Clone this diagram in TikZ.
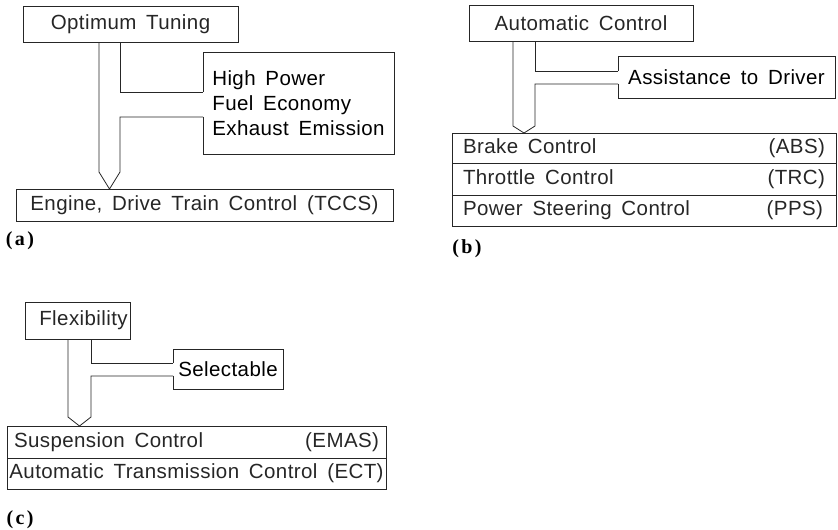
\documentclass[tikz,border=0pt]{standalone}
\usepackage{fontspec}
\setmainfont{Liberation Sans}[LetterSpace=2,WordSpace=1.6]
\newfontfamily\labfont{Liberation Serif}[LetterSpace=12]
\begin{document}
\begin{tikzpicture}[x=1pt,y=-1pt,
  ln/.style={line width=0.8pt,black!85},
  box/.style={draw,ln,rectangle,inner sep=0pt,outer sep=0pt,font=\fontsize{20.5}{25}\selectfont},
  nobox/.style={rectangle,inner sep=0pt,outer sep=0pt,font=\fontsize{20.5}{25}\selectfont},
  lab/.style={inner sep=0pt,font=\labfont\bfseries\fontsize{20}{22}\selectfont}]
\useasboundingbox (0,0) rectangle (838,530);

% ---------- (a) ----------
\node[box,minimum width=215pt,minimum height=36pt] (ot) at (130.5,24) {Optimum Tuning};
\node[nobox,minimum width=191pt,minimum height=102pt,align=left] (hp) at (298.5,103)
  {High Power\\Fuel Economy\\Exhaust Emission};
\node[box,minimum width=377pt,minimum height=32pt] (eng) at (204.5,205) {Engine, Drive Train Control (TCCS)};
\node[lab] (la) at (20,241) {(a)};
\coordinate (aL) at (99,0);
\coordinate (aR) at (120,0);
\coordinate (aT) at (109.5,0);
\coordinate (aD) at (0,172);
\coordinate (aB1) at (203,92);
\coordinate (aB2) at (203,117);
\draw[ln] (aR |- ot.south) -- (aR |- aB1) -- (aB1);
\draw[ln] (aL |- ot.south) -- (aL |- aD) -- (aT |- eng.north) -- (aR |- aD) -- (aR |- aB2) -- (aB2);
\draw[ln] (aB1) -- (hp.north west) -- (hp.north east) -- (hp.south east) -- (hp.south west) -- (aB2);

% ---------- (b) ----------
\node[box,minimum width=224pt,minimum height=36pt] (ac) at (581,23) {Automatic Control};
\node[nobox,minimum width=217pt,minimum height=42pt] (as) at (726.5,77) {Assistance to Driver};
\node[box,minimum width=384pt,minimum height=30pt] (r1) at (644,148) {\makebox[362pt]{Brake Control\hfill(ABS)}};
\node[box,minimum width=384pt,minimum height=32pt] (r2) at (644,179) {\makebox[362pt]{Throttle Control\hfill(TRC)}};
\node[box,minimum width=384pt,minimum height=31pt] (r3) at (644,210.5) {\makebox[362pt]{Power Steering Control\hfill(PPS)\hspace*{2pt}}};
\node[lab] (lb) at (467,249) {(b)};
\coordinate (bL) at (513,0);
\coordinate (bR) at (535,0);
\coordinate (bT) at (524,0);
\coordinate (bD) at (0,126);
\coordinate (bB1) at (618,71);
\coordinate (bB2) at (618,84);
\draw[ln] (bR |- ac.south) -- (bR |- bB1) -- (bB1);
\draw[ln] (bL |- ac.south) -- (bL |- bD) -- (bT |- r1.north) -- (bR |- bD) -- (bR |- bB2) -- (bB2);
\draw[ln] (bB1) -- (as.north west) -- (as.north east) -- (as.south east) -- (as.south west) -- (bB2);

% ---------- (c) ----------
\node[box,minimum width=105pt,minimum height=37pt] (fx) at (77.5,320.5) {\hspace*{12pt}Flexibility};
\node[nobox,minimum width=110pt,minimum height=40pt] (se) at (228,369) {Selectable};
\node[box,minimum width=379pt,minimum height=32pt] (s1) at (196.5,442) {\makebox[365pt]{Suspension Control\hfill(EMAS)}};
\node[box,minimum width=379pt,minimum height=31pt] (s2) at (196.5,473.5) {Automatic Transmission Control (ECT)};
\node[lab] (lc) at (20,520) {(c)};
\coordinate (cL) at (68,0);
\coordinate (cR) at (91,0);
\coordinate (cT) at (79.5,0);
\coordinate (cD) at (0,417);
\coordinate (cB1) at (173,363);
\coordinate (cB2) at (173,376);
\draw[ln] (cR |- fx.south) -- (cR |- cB1) -- (cB1);
\draw[ln] (cL |- fx.south) -- (cL |- cD) -- (cT |- s1.north) -- (cR |- cD) -- (cR |- cB2) -- (cB2);
\draw[ln] (cB1) -- (se.north west) -- (se.north east) -- (se.south east) -- (se.south west) -- (cB2);
\end{tikzpicture}
\end{document}
